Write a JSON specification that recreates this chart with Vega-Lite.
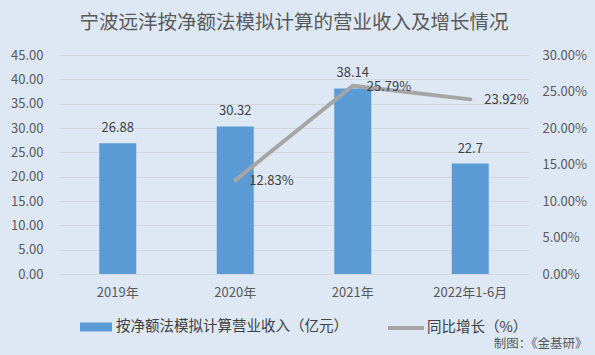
{
  "$schema": "https://vega.github.io/schema/vega-lite/v6.json",
  "width": 470,
  "height": 219,
  "autosize": {"type": "none"},
  "padding": {"left": 59, "top": 55, "right": 66, "bottom": 81},
  "background": "#dde8f4",
  "title": {
    "text": "宁波远洋按净额法模拟计算的营业收入及增长情况",
    "font": "Noto Sans CJK SC",
    "fontSize": 19.5,
    "fontWeight": "normal",
    "color": "#595959",
    "anchor": "middle",
    "offset": 16
  },
  "config": {
    "view": {"stroke": null},
    "font": "Noto Sans CJK SC",
    "axis": {"labelFont": "Noto Sans CJK SC", "titleFont": "Noto Sans CJK SC", "labelOverlap": false},
    "legend": {"labelFont": "Noto Sans CJK SC", "labelLimit": 400}
  },
  "data": {
    "values": [
      {"period": "2019年", "revenue": 26.88, "growth": null},
      {"period": "2020年", "revenue": 30.32, "growth": 0.1283},
      {"period": "2021年", "revenue": 38.14, "growth": 0.2579},
      {"period": "2022年1-6月", "revenue": 22.7, "growth": 0.2392}
    ]
  },
  "layer": [
    {
      "encoding": {
        "x": {
          "field": "period", "type": "nominal", "sort": null,
          "scale": {"paddingInner": 0.685, "paddingOuter": 0.3425},
          "axis": {
            "labelAngle": 0, "ticks": false, "domain": true, "domainColor": "#d2d8de",
            "labelPadding": 12, "labelFontSize": 13, "labelColor": "#595959",
            "title": "制图：《金基研》", "titleX": 528, "titleY": 69, "titleAlign": "right",
            "titleBaseline": "middle", "titleFontSize": 12.5, "titleFontWeight": "normal",
            "titleColor": "#595959", "titleAnchor": null
          }
        },
        "y": {
          "field": "revenue", "type": "quantitative",
          "scale": {"domain": [0, 45], "nice": false, "zero": true},
          "axis": {
            "orient": "left", "values": [0, 5, 10, 15, 20, 25, 30, 35, 40, 45],
            "format": ".2f", "grid": true, "gridColor": "#d2d8de", "ticks": false,
            "domain": false, "labelPadding": 16, "labelFontSize": 13,
            "labelColor": "#595959", "title": null, "labelOverlap": false, "labelFlush": false
          }
        }
      },
      "layer": [
        {
          "mark": {"type": "bar"},
          "encoding": {
            "fill": {
              "datum": "按净额法模拟计算营业收入（亿元）",
              "scale": {"range": ["#5b9bd5"]},
              "legend": {
                "orient": "none", "legendX": 21, "legendY": 256, "title": null,
                "symbolType": "M-1,-0.28H1V0.28H-1Z", "symbolSize": 1024,
                "symbolStrokeWidth": 0, "labelFontSize": 14.5, "labelColor": "#404040",
                "labelOffset": 4, "padding": 0, "labelLimit": 400
              }
            }
          }
        },
        {
          "mark": {"type": "text", "fontSize": 13, "color": "#404040", "baseline": "middle", "dy": -15},
          "encoding": {
            "text": {"field": "revenue", "type": "nominal"}
          }
        }
      ]
    },
    {
      "transform": [{"filter": "datum.growth != null"}],
      "encoding": {
        "x": {"field": "period", "type": "nominal", "sort": null},
        "y": {
          "field": "growth", "type": "quantitative",
          "scale": {"domain": [0, 0.3], "nice": false},
          "axis": {
            "orient": "right", "values": [0, 0.05, 0.1, 0.15, 0.2, 0.25, 0.3],
            "format": ".2%", "grid": false, "ticks": false, "domain": false,
            "labelPadding": 13, "labelFontSize": 13, "labelColor": "#595959", "title": null,
            "labelOverlap": false, "labelFlush": false
          }
        }
      },
      "layer": [
        {
          "mark": {"type": "line", "strokeWidth": 4, "strokeCap": "round", "strokeJoin": "round"},
          "encoding": {
            "stroke": {
              "datum": "同比增长（%）",
              "scale": {"range": ["#a5a5a5"]},
              "legend": {
                "orient": "none", "legendX": 327, "legendY": 253, "title": null,
                "symbolType": "stroke", "symbolSize": 1296, "symbolStrokeWidth": 4,
                "labelFontSize": 14.5, "labelColor": "#404040", "labelOffset": 1, "padding": 0
              }
            }
          }
        },
        {
          "mark": {"type": "text", "fontSize": 13, "color": "#404040", "align": "left", "baseline": "middle", "dx": 14, "dy": 1},
          "encoding": {
            "text": {"field": "growth", "type": "quantitative", "format": ".2%"}
          }
        }
      ]
    }
  ],
  "resolve": {"scale": {"y": "independent"}}
}
